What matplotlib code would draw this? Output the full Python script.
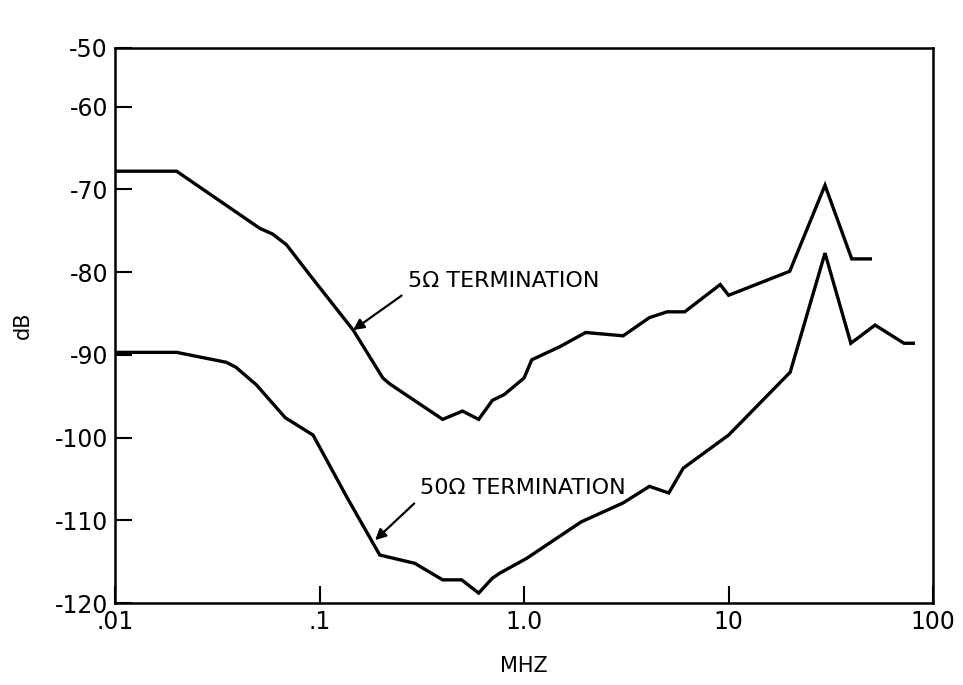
import matplotlib
matplotlib.use("Agg")
import matplotlib.pyplot as plt

# Values (frequency in MHz, level in dB)
FREQ_5 = [0.01, 0.02, 0.051, 0.059, 0.069, 0.09, 0.146, 0.204, 0.22, 0.40, 0.50,
          0.60, 0.70, 0.80, 1.0, 1.09, 1.5, 2.0, 3.05, 4.1, 5.0, 6.1, 9.1, 10.0,
          19.9, 29.6, 40.0, 49.3]
DB_5 = [-67.8, -67.8, -74.7, -75.4, -76.7, -80.4, -87.0, -92.8, -93.5, -97.8, -96.8,
        -97.8, -95.5, -94.8, -92.8, -90.6, -89.0, -87.3, -87.7, -85.5, -84.8, -84.8,
        -81.5, -82.8, -79.9, -69.5, -78.4, -78.4]

FREQ_50 = [0.01, 0.02, 0.035, 0.039, 0.049, 0.068, 0.093, 0.136, 0.197, 0.292,
           0.40, 0.495, 0.60, 0.70, 0.76, 1.03, 1.9, 3.05, 4.1, 5.1, 6.0, 10.0,
           20.0, 29.6, 39.6, 52.0, 72.0, 80.0]
DB_50 = [-89.7, -89.7, -90.9, -91.5, -93.6, -97.6, -99.7, -107.2, -114.2, -115.2,
         -117.2, -117.2, -118.8, -117.0, -116.4, -114.6, -110.2, -107.9, -105.9,
         -106.7, -103.7, -99.7, -92.1, -77.7, -88.6, -86.4, -88.6, -88.6]

X_TICKS = [0.01, 0.1, 1.0, 10, 100]
X_LABELS = [".01", ".1", "1.0", "10", "100"]
Y_TICKS = [-52.9, -60, -70, -80, -90, -100, -110, -120]
Y_LABELS = ["-50", "-60", "-70", "-80", "-90", "-100", "-110", "-120"]

plt.rcParams["font.family"] = ["Liberation Sans Narrow", "DejaVu Sans"]

fig = plt.figure(figsize=(9.63, 6.85), dpi=100)
ax = fig.add_axes([0.1194, 0.1197, 0.8496, 0.8103])

ax.plot(FREQ_5, DB_5, color="black", linewidth=2.4, solid_joinstyle="miter")
ax.plot(FREQ_50, DB_50, color="black", linewidth=2.4, solid_joinstyle="miter")

ax.set_xscale("log")
ax.set_xlim(0.01, 100)
ax.set_ylim(-120, -52.9)
ax.set_xticks(X_TICKS)
ax.set_xticklabels(X_LABELS)
ax.set_yticks(Y_TICKS)
ax.set_yticklabels(Y_LABELS)
ax.minorticks_off()
ax.tick_params(direction="in", length=12, width=1.5, labelsize=17, pad=5)
for spine in ax.spines.values():
    spine.set_linewidth(1.8)

ax.set_xlabel("MHZ", fontsize=15, labelpad=16)
ax.set_ylabel("dB", fontsize=15, labelpad=16)

arrow = dict(arrowstyle="-|>", color="black", lw=1.6, relpos=(0, 0),
             shrinkA=3, shrinkB=0, mutation_scale=16)
ax.annotate("5Ω TERMINATION", xy=(0.146, -87.0), xytext=(0.27, -81.1),
            fontsize=16, va="center", ha="left", arrowprops=arrow)
ax.annotate("50Ω TERMINATION", xy=(0.187, -112.4), xytext=(0.31, -106.1),
            fontsize=16, va="center", ha="left", arrowprops=arrow)

fig.savefig("out.png", dpi=100)
